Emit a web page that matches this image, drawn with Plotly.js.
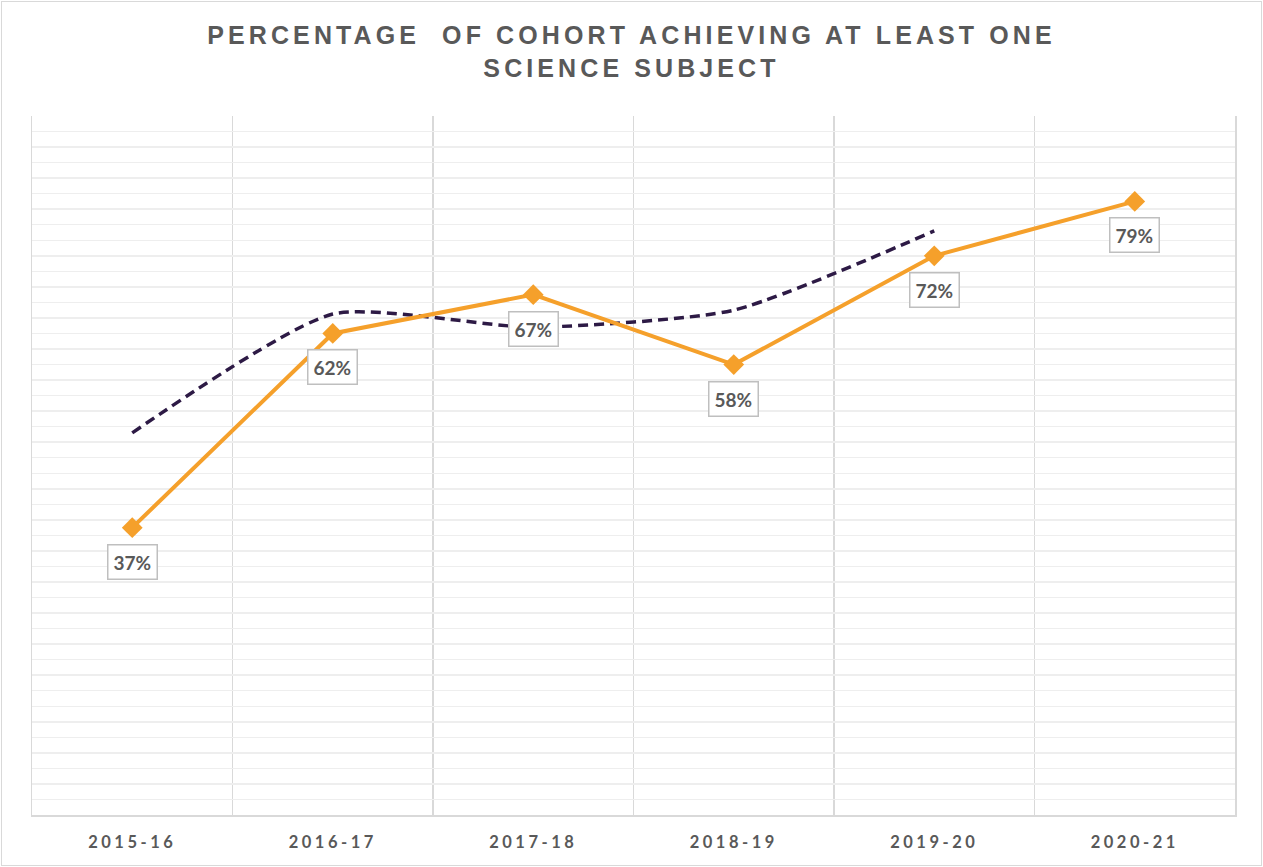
<!DOCTYPE html>
<html>
<head>
<meta charset="utf-8">
<script src="https://cdn.plot.ly/plotly-3.0.1.min.js"></script>
<style>
  html, body { margin: 0; padding: 0; background: #fff; }
  #chart { width: 1263px; height: 867px; position: absolute; left: 0; top: 0; }
  #frame { position: absolute; left: 1px; top: 1px; width: 1261px; height: 865px; box-sizing: border-box; border: 1px solid #d9d9d9; pointer-events: none; }
  .gtitle { letter-spacing: 4.1px; }
  .xtick text { letter-spacing: 3.5px; }
</style>
</head>
<body>
<div id="chart"></div>
<div id="frame"></div>
<script>
const years = ['2015-16', '2016-17', '2017-18', '2018-19', '2019-20', '2020-21'];
const cohortPct = [37, 62, 67, 58, 72, 79];
const comparisonPct = [49.2, 64.5, 62.8, 65.0, 75.2, null];
const dataLabels = ['37%', '62%', '67%', '58%', '72%', '79%'];
const titleText = 'PERCENTAGE\u00a0 OF COHORT ACHIEVING AT LEAST ONE<br>SCIENCE SUBJECT';

const orange = '#f5a02b';
const purple = '#2d1a45';
const grey = '#595959';

const traces = [
  {
    x: years, y: comparisonPct, type: 'scatter', mode: 'lines',
    line: { color: purple, width: 3.5, dash: '10px,6px', shape: 'spline', smoothing: 0.6 },
    hoverinfo: 'skip', connectgaps: false
  },
  {
    x: years, y: cohortPct, type: 'scatter', mode: 'lines+markers',
    line: { color: orange, width: 4 },
    marker: { symbol: 'diamond', size: 16, color: orange },
    hoverinfo: 'skip'
  }
];

const annotations = years.map((yr, i) => ({
  x: yr, y: cohortPct[i], xref: 'x', yref: 'y',
  text: dataLabels[i], showarrow: false, yshift: -34,
  font: { family: 'Lato, sans-serif', size: 19, color: grey, weight: 'bold' },
  bgcolor: '#ffffff', bordercolor: '#bfbfbf', borderwidth: 1.5, borderpad: 5
}));

const layout = {
  width: 1263, height: 867,
  margin: { l: 32, r: 28, t: 116, b: 52 },
  paper_bgcolor: '#ffffff', plot_bgcolor: '#ffffff',
  showlegend: false,
  title: {
    text: titleText,
    x: 0.5, xref: 'container', xanchor: 'center',
    y: 0.949, yref: 'container', yanchor: 'top',
    font: { family: 'Liberation Sans, Arial, sans-serif', size: 25, color: grey, weight: 'bold' }
  },
  xaxis: {
    type: 'category', tickson: 'boundaries',
    range: [-0.5, 5.5],
    showgrid: true, gridcolor: '#d9d9d9', gridwidth: 1.5,
    showline: true, linecolor: '#d9d9d9', linewidth: 1.5,
    ticks: '', ticklen: 0, ticklabelstandoff: 12,
    tickfont: { family: 'Lato, sans-serif', size: 16.5, color: grey, weight: 'bold' },
    fixedrange: true
  },
  yaxis: {
    range: [0, 90], dtick: 2, tick0: 0,
    showgrid: true, gridcolor: '#eeeeee', gridwidth: 1.5,
    showticklabels: false, zeroline: false,
    showline: true, mirror: true, linecolor: '#d9d9d9', linewidth: 1.5,
    ticks: '', fixedrange: true
  },
  annotations: annotations
};

Plotly.newPlot('chart', traces, layout, { displayModeBar: false, staticPlot: true });
</script>
</body>
</html>
